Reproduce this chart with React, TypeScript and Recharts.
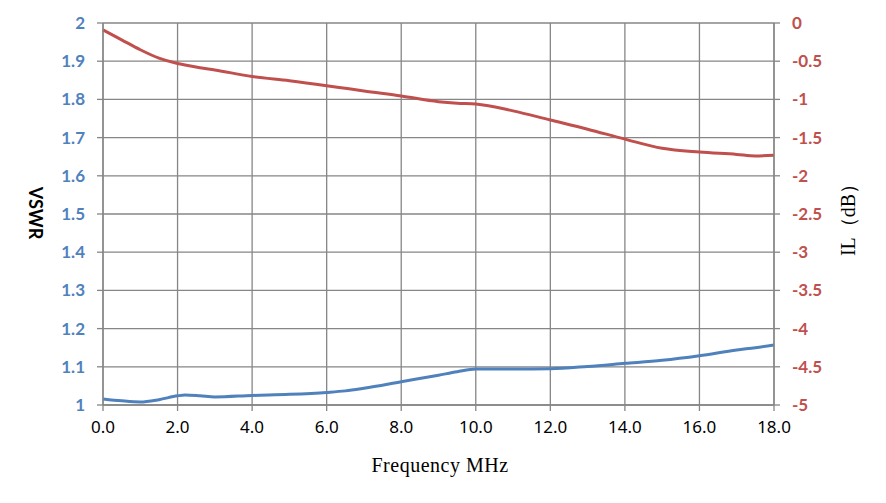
import React from "react";
import { ComposedChart, Line, XAxis, YAxis, CartesianGrid } from "recharts";

const freq = [0, 0.5, 1, 1.5, 2, 2.2, 2.6, 3, 4, 5, 6, 6.5, 7, 8, 9, 9.5, 10, 11, 12, 13, 14, 15, 16, 17, 17.5, 18];
const vswr = [1.016, 1.011, 1.008, 1.014, 1.024, 1.026, 1.024, 1.021, 1.025, 1.028, 1.033, 1.037, 1.044, 1.061, 1.078, 1.087, 1.094, 1.094, 1.095, 1.101, 1.109, 1.117, 1.129, 1.144, 1.15, 1.157];
const il = [-0.09, -0.22, -0.35, -0.46, -0.53, -0.55, -0.585, -0.615, -0.7, -0.755, -0.82, -0.855, -0.89, -0.955, -1.03, -1.05, -1.06, -1.15, -1.27, -1.39, -1.52, -1.64, -1.69, -1.72, -1.74, -1.73];

const xTicks = [0, 2, 4, 6, 8, 10, 12, 14, 16, 18];
const vswrTicks = [1, 1.1, 1.2, 1.3, 1.4, 1.5, 1.6, 1.7, 1.8, 1.9, 2];
const ilTicks = [-5, -4.5, -4, -3.5, -3, -2.5, -2, -1.5, -1, -0.5, 0];

const data = freq.map((f, i) => ({ f, vswr: vswr[i], il: il[i] }));

const BLUE = "#4F81BD";
const RED = "#C0504D";
const GRID = "#868686";

export default function App() {
  return (
    <div style={{ position: "absolute", left: 0, top: 0, width: 886, height: 503, background: "#fff" }}>
      <ComposedChart width={886} height={503} data={data} margin={{ top: 23, right: 0, bottom: 0, left: 0 }}>
        <CartesianGrid stroke={GRID} strokeWidth={1.3} horizontalValues={vswrTicks} verticalValues={xTicks} yAxisId="l" />
        <XAxis
          dataKey="f"
          type="number"
          domain={[0, 18]}
          ticks={xTicks}
          tickFormatter={(v) => v.toFixed(1)}
          height={98}
          tickSize={6}
          tickMargin={10}
          stroke={GRID}
          strokeWidth={1.3}
          tick={{ fill: "#000", fontSize: 17, fontFamily: "Noto Sans" }}
          interval={0}
        />
        <YAxis
          yAxisId="l"
          orientation="left"
          domain={[1, 2]}
          ticks={vswrTicks}
          width={103}
          tickSize={6}
          tickMargin={12}
          stroke={GRID}
          strokeWidth={1.3}
          interval={0}
          tick={{ fill: BLUE, fontSize: 17, fontWeight: "bold", fontFamily: "Lato" }}
        />
        <YAxis
          yAxisId="r"
          orientation="right"
          domain={[-5, 0]}
          ticks={ilTicks}
          width={112}
          tickSize={6}
          tickMargin={12}
          stroke={GRID}
          strokeWidth={1.3}
          interval={0}
          tick={{ fill: RED, fontSize: 17, fontWeight: "bold", fontFamily: "Lato", textAnchor: "start" }}
        />
        <Line yAxisId="l" type="monotone" dataKey="vswr" stroke={BLUE} strokeWidth={3} dot={false} isAnimationActive={false} />
        <Line yAxisId="r" type="monotone" dataKey="il" stroke={RED} strokeWidth={3} dot={false} isAnimationActive={false} />
      </ComposedChart>
      <div
        style={{
          position: "absolute",
          left: 36,
          top: 213,
          transform: "translate(-50%, -50%) rotate(90deg)",
          fontFamily: "Lato",
          fontWeight: "bold",
          fontSize: 18,
          color: "#000",
          whiteSpace: "nowrap",
        }}
      >
        VSWR
      </div>
      <div
        style={{
          position: "absolute",
          left: 848,
          top: 215,
          transform: "translate(-50%, -50%) rotate(-90deg)",
          fontFamily: "Liberation Serif",
          fontSize: 20,
          color: "#000",
          whiteSpace: "nowrap",
        }}
      >
        IL（dB）
      </div>
      <div
        style={{
          position: "absolute",
          left: 440,
          top: 465,
          transform: "translate(-50%, -50%)",
          fontFamily: "Liberation Serif",
          fontSize: 20,
          letterSpacing: 0.5,
          color: "#000",
          whiteSpace: "nowrap",
        }}
      >
        Frequency MHz
      </div>
    </div>
  );
}
